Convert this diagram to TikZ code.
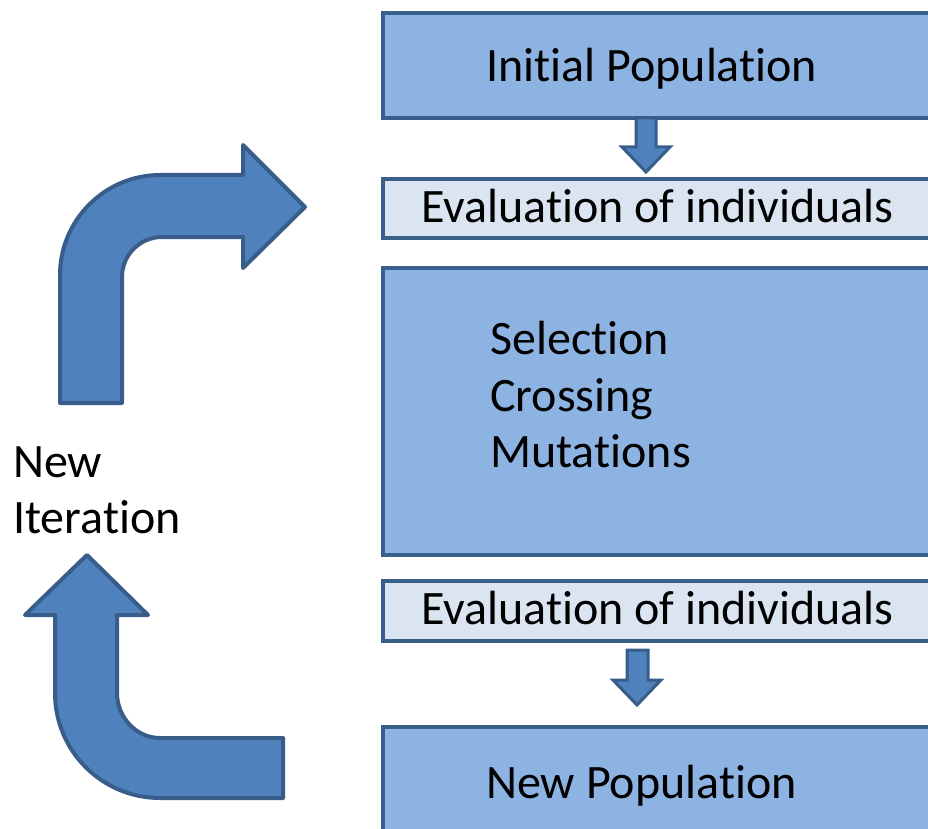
\documentclass[tikz,border=0pt]{standalone}
\usepackage{fontspec}
\setmainfont{Carlito}[Ligatures={NoCommon,NoContextual,NoRequired,NoRare}]
\definecolor{boxfill}{HTML}{8DB3E2}
\definecolor{lightfill}{HTML}{DBE5F1}
\definecolor{boxline}{HTML}{3A5F8B}
\definecolor{arrowfill}{HTML}{4F81BD}
\definecolor{arrowline}{HTML}{385D8A}
\tikzset{
  blockbox/.style={draw=boxline, line width=4pt, fill=boxfill, rectangle, anchor=north west, inner sep=0pt, minimum width=600pt},
  lightbox/.style={blockbox, fill=lightfill},
  label text/.style={anchor=base west, inner sep=0pt, font=\fontsize{48}{57}\selectfont, text=black},
  bigarrow/.style={draw=arrowline, line width=4pt, fill=arrowfill, line join=round},
  smallarrow/.style={draw=arrowline, line width=3pt, fill=arrowfill, line join=miter},
}
\begin{document}
\begin{tikzpicture}[x=1pt,y=-1pt]
\useasboundingbox (0,0) rectangle (928,829);
\clip (0,0) rectangle (928,829);
% boxes
\node[blockbox, minimum height=105pt] (b1) at (381,11) {};
\node[lightbox, minimum height=59pt] (b2) at (381,177) {};
\node[blockbox, minimum height=287pt] (b3) at (381,266) {};
\node[lightbox, minimum height=60pt] (b4) at (381,579) {};
\node[blockbox, minimum height=200pt] (b5) at (381,725) {};
% texts
\node[label text] (t1) at (486,82) {Initial Population};
\node[label text] (t2) at (421,222) {Evaluation of individuals};
\node[label text] (sel) at (490,354) {Selection};
\node[label text] (cro) at (490,411) {Crossing};
\node[label text] (mut) at (490,467) {Mutations};
\node[label text] (t4) at (421,624) {Evaluation of individuals};
\node[label text] (t5) at (486,798) {New Population};
\node[label text] (new) at (13,477) {New};
\node[label text] (iter) at (13,533) {Iteration};
% small arrows
\draw[smallarrow] (636,118) -- (656,118) -- (656,147) -- (670,147) -- (646,172) -- (622,147) -- (636,147) -- cycle;
\draw[smallarrow] (627,650) -- (648,650) -- (648,680) -- (661,680) -- (637,705) -- (613,680) -- (627,680) -- cycle;
% big arrows
\draw[bigarrow] (60,403) -- (60,275) .. controls (60,220) and (105,175) .. (160,175) -- (243,175) -- (243,145) -- (305,207) -- (243,268) -- (243,237) -- (162,237) .. controls (140,237) and (122,255) .. (122,277) -- (122,403) -- cycle;
\draw[bigarrow] (87,555) -- (148,615) -- (117,615) -- (117,693) .. controls (117,717) and (136,738) .. (160,738) -- (283,738) -- (283,798) -- (160,798) .. controls (102,798) and (55,751) .. (55,693) -- (55,615) -- (25,615) -- cycle;
\end{tikzpicture}
\end{document}
